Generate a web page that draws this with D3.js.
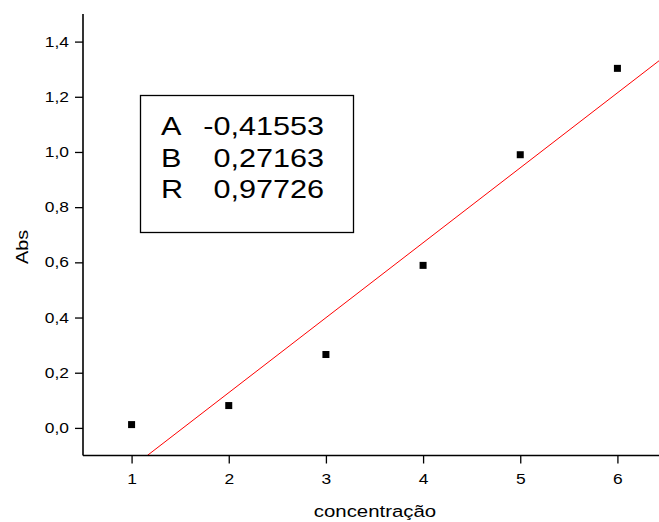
<!DOCTYPE html>
<html><head><meta charset="utf-8">
<script src="https://cdn.jsdelivr.net/npm/d3@7"></script>
<style>html,body{margin:0;padding:0;background:#fff;}svg{display:block;font-family:"Liberation Sans",Arial,sans-serif;}</style>
</head><body>
<svg id="c" width="659" height="522"></svg>
<script>
const concentracao = [1, 2, 3, 4, 5, 6];
const abs = [0.012, 0.081, 0.266, 0.589, 0.990, 1.303];
const fitLabels = ["A", "B", "R"];
const fitValues = ["-0,41553", "0,27163", "0,97726"];
const fitA = -0.41553, fitB = 0.27163;
const xTicks = [1, 2, 3, 4, 5, 6];
const xMinor = [0.5, 1.5, 2.5, 3.5, 4.5, 5.5, 6.5];
const yTicks = [0, 0.2, 0.4, 0.6, 0.8, 1.0, 1.2, 1.4];
const yMinor = [-0.1, 0.1, 0.3, 0.5, 0.7, 0.9, 1.1, 1.3, 1.5];

const S = 1.2; // glyph widening of the reference font
const svg = d3.select("#c");
const x = d3.scaleLinear().domain([0.5, 6.5]).range([83, 666]);
const y = d3.scaleLinear().domain([-0.1, 1.5]).range([455.5, 14]);
const fmt = d => d3.format(".1f")(d).replace(".", ",");

function label(px, py, txt, size, anchor, rot) {
  return svg.append("text")
    .attr("transform", `translate(${px},${py})` + (rot ? ` rotate(${rot})` : "") + ` scale(${S},1)`)
    .attr("text-anchor", anchor).attr("font-size", size).attr("fill", "#000").text(txt);
}

// fit line
const x0 = (-0.1 - fitA) / fitB, x1 = 6.5;
svg.append("line")
  .attr("x1", x(x0)).attr("y1", y(fitA + fitB * x0))
  .attr("x2", x(x1)).attr("y2", y(fitA + fitB * x1))
  .attr("stroke", "#ff0000").attr("stroke-width", 1);

// points
svg.selectAll("rect.pt").data(concentracao).join("rect")
  .attr("class", "pt")
  .attr("x", (d) => x(d) - 3.5).attr("y", (d, i) => y(abs[i]) - 3.5)
  .attr("width", 7).attr("height", 7).attr("fill", "#000");

// axes
const gx = svg.append("g").attr("transform", `translate(0,${y(-0.1)})`);
gx.call(d3.axisBottom(x).tickValues(xMinor).tickSize(4).tickFormat(""));
gx.call(d3.axisBottom(x).tickValues(xTicks).tickSize(8).tickPadding(10).tickFormat(d3.format("d")));
const gy = svg.append("g").attr("transform", `translate(${x(0.5)},0)`);
gy.call(d3.axisLeft(y).tickValues(yMinor).tickSize(4).tickFormat(""));
gy.call(d3.axisLeft(y).tickValues(yTicks).tickSize(8).tickPadding(6).tickFormat(fmt));
svg.selectAll(".domain").remove();
svg.selectAll(".tick line").attr("stroke", "#000").attr("stroke-width", 1.3);
svg.selectAll(".tick text").each(function () {
  const t = d3.select(this);
  const tx = +t.attr("x") || 0;
  t.attr("x", tx / S).attr("transform", `scale(${S},1)`);
}).attr("font-size", 14.5).attr("fill", "#000")
  .attr("font-family", "'Liberation Sans', Arial, sans-serif");
svg.append("line").attr("x1", x(0.5)).attr("x2", 659).attr("y1", y(-0.1)).attr("y2", y(-0.1))
  .attr("stroke", "#000").attr("stroke-width", 1.6);
svg.append("line").attr("x1", x(0.5)).attr("x2", x(0.5)).attr("y1", y(-0.1)).attr("y2", y(1.5))
  .attr("stroke", "#000").attr("stroke-width", 1.6);

// axis titles
label(375, 517, "concentração", 17, "middle");
label(28, 247, "Abs", 16.5, "middle", -90);

// fit box
svg.append("rect").attr("x", 140.5).attr("y", 95.5).attr("width", 213).attr("height", 137)
  .attr("fill", "#fff").attr("stroke", "#000").attr("stroke-width", 1.3);
const rows = [135, 167, 198];
fitLabels.forEach((l, i) => {
  label(161, rows[i], l, 25.5, "start");
  label(324, rows[i], fitValues[i], 25.5, "end");
});
</script>
</body></html>
